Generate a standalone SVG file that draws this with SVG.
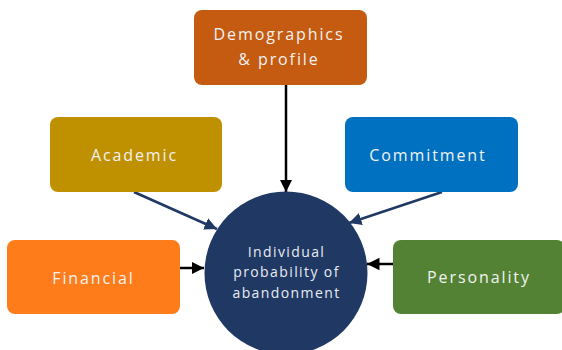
<svg xmlns="http://www.w3.org/2000/svg" width="562" height="350" viewBox="0 0 562 350">
<defs>
<style>
.box text{font-family:"Open Sans","Noto Sans",sans-serif;font-size:16px;letter-spacing:1.9px;fill:#F2F2F2;text-anchor:middle}
.ctext{font-family:"Open Sans","Noto Sans",sans-serif;font-size:14px;letter-spacing:1.4px;fill:#E8ECF2;text-anchor:middle}
.blk{stroke:#000;stroke-width:2.5;fill:none}
.nav{stroke:#203864;stroke-width:2.5;fill:none}
</style>
<marker id="ab" viewBox="0 0 10 10" refX="10" refY="5" markerWidth="5" markerHeight="6" markerUnits="strokeWidth" orient="auto">
<path d="M0,0 L10,5 L0,10 z" fill="#000"/>
</marker>
<marker id="an" viewBox="0 0 10 10" refX="10" refY="5" markerWidth="5" markerHeight="5" markerUnits="strokeWidth" orient="auto">
<path d="M0,0 L10,5 L0,10 z" fill="#203864"/>
</marker>
</defs>
<rect width="562" height="350" fill="#fff"/>
<g id="connectors">
<line class="blk" x1="286" y1="85" x2="286" y2="192" marker-end="url(#ab)"/>
<line class="nav" x1="134" y1="192" x2="217" y2="229" marker-end="url(#an)"/>
<line class="nav" x1="442" y1="192" x2="349" y2="223" marker-end="url(#an)"/>
<line class="blk" x1="180" y1="268" x2="204" y2="268" marker-end="url(#ab)"/>
<line class="blk" x1="393" y1="264" x2="367" y2="264" marker-end="url(#ab)"/>
</g>
<g id="demographics" class="box">
<rect x="194" y="10" width="173" height="75" rx="8" fill="#C55A11"/>
<text x="279" y="40">Demographics</text>
<text x="279" y="65">&amp; profile</text>
</g>
<g id="academic" class="box">
<rect x="50" y="117" width="172" height="75" rx="8" fill="#BF9000"/>
<text x="134.5" y="161">Academic</text>
</g>
<g id="commitment" class="box">
<rect x="345" y="117" width="173" height="75" rx="8" fill="#0070C0"/>
<text x="428" y="161">Commitment</text>
</g>
<g id="financial" class="box">
<rect x="7" y="240" width="173" height="74" rx="8" fill="#FF7C1A"/>
<text x="93.5" y="284">Financial</text>
</g>
<g id="personality" class="box">
<rect x="393" y="240" width="172" height="74" rx="8" fill="#548235"/>
<text x="479" y="283">Personality</text>
</g>
<g id="outcome">
<circle cx="286" cy="273" r="81.5" fill="#203864"/>
<text class="ctext" x="286.5" y="257">Individual</text>
<text class="ctext" x="286.5" y="277">probability of</text>
<text class="ctext" x="286.5" y="298">abandonment</text>
</g>
</svg>
